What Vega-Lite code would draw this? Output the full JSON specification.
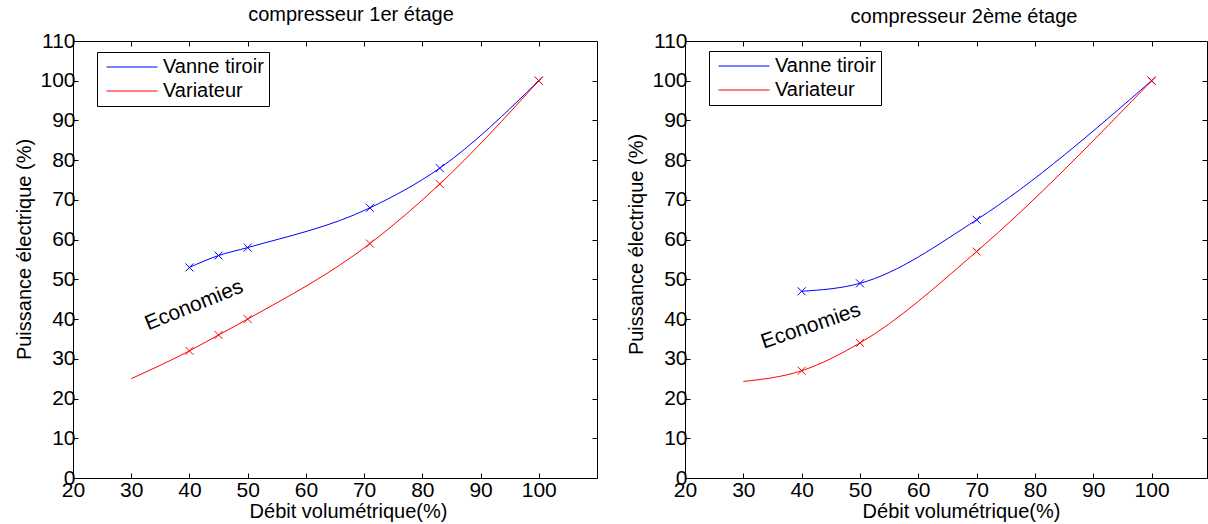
{
  "$schema": "https://vega.github.io/schema/vega-lite/v6.json",
  "background": "white",
  "padding": {"left": 14, "top": 4, "right": 0, "bottom": 0},
  "spacing": 28,
  "config": {
    "font": "Liberation Sans",
    "view": {"stroke": "black", "strokeWidth": 1},
    "axis": {
      "labelFont": "Liberation Sans", "labelFontSize": 21, "labelColor": "black",
      "titleFont": "Liberation Sans", "titleFontSize": 20, "titleFontWeight": "normal", "titleColor": "black",
      "domainColor": "black", "tickColor": "black", "tickSize": -5, "grid": false, "labelPadding": 3,
      "labelFlush": false, "labelOverlap": false
    },
    "title": {"font": "Liberation Sans", "fontSize": 20, "fontWeight": "normal", "color": "black"},
    "legend": {
      "strokeColor": "black", "fillColor": "white", "padding": 5, "symbolType": "M-5,0L5,0",
      "symbolSize": 104, "symbolStrokeWidth": 1, "labelFont": "Liberation Sans", "labelFontSize": 20,
      "labelColor": "black", "rowPadding": 4, "labelOffset": 21, "symbolOffset": 20, "symbolFillColor": "transparent"
    }
  },
  "datasets": {
    "c1": [
      {"debit": 40, "puissance": 53, "serie": "Vanne tiroir", "mesure": true},
      {"debit": 45, "puissance": 56, "serie": "Vanne tiroir", "mesure": true},
      {"debit": 50, "puissance": 58, "serie": "Vanne tiroir", "mesure": true},
      {"debit": 71, "puissance": 68, "serie": "Vanne tiroir", "mesure": true},
      {"debit": 83, "puissance": 78, "serie": "Vanne tiroir", "mesure": true},
      {"debit": 100, "puissance": 100, "serie": "Vanne tiroir", "mesure": true},
      {"debit": 30, "puissance": 25, "serie": "Variateur", "mesure": false},
      {"debit": 40, "puissance": 32, "serie": "Variateur", "mesure": true},
      {"debit": 45, "puissance": 36, "serie": "Variateur", "mesure": true},
      {"debit": 50, "puissance": 40, "serie": "Variateur", "mesure": true},
      {"debit": 71, "puissance": 59, "serie": "Variateur", "mesure": true},
      {"debit": 83, "puissance": 74, "serie": "Variateur", "mesure": true},
      {"debit": 100, "puissance": 100, "serie": "Variateur", "mesure": true}
    ],
    "c2": [
      {"debit": 40, "puissance": 47, "serie": "Vanne tiroir", "mesure": true},
      {"debit": 50, "puissance": 49, "serie": "Vanne tiroir", "mesure": true},
      {"debit": 70, "puissance": 65, "serie": "Vanne tiroir", "mesure": true},
      {"debit": 100, "puissance": 100, "serie": "Vanne tiroir", "mesure": true},
      {"debit": 30, "puissance": 24.3, "serie": "Variateur", "mesure": false},
      {"debit": 40, "puissance": 27, "serie": "Variateur", "mesure": true},
      {"debit": 50, "puissance": 34, "serie": "Variateur", "mesure": true},
      {"debit": 70, "puissance": 57, "serie": "Variateur", "mesure": true},
      {"debit": 100, "puissance": 100, "serie": "Variateur", "mesure": true}
    ]
  },
  "resolve": {"scale": {"color": "independent"}, "legend": {"color": "independent"}},
  "hconcat": [
    {
      "width": 524, "height": 437,
      "title": {"text": "compresseur 1er étage", "offset": 5, "dx": 16},
      "data": {"name": "c1"},
      "resolve": {"axis": {"x": "independent", "y": "independent"}},
      "layer": [
        {
          "mark": {"type": "line", "interpolate": "monotone", "strokeWidth": 1, "clip": true},
          "encoding": {
            "x": {"field": "debit", "type": "quantitative", "scale": {"domain": [20, 110], "nice": false, "zero": false},
                  "axis": {"title": "Débit volumétrique(%)", "values": [20, 30, 40, 50, 60, 70, 80, 90, 100], "titleX": 275, "titlePadding": 1, "labelPadding": 6}},
            "y": {"field": "puissance", "type": "quantitative", "scale": {"domain": [0, 110], "nice": false},
                  "axis": {"title": "Puissance électrique (%)", "values": [0, 10, 20, 30, 40, 50, 60, 70, 80, 90, 100, 110], "titleY": 208, "titlePadding": 5}},
            "color": {"field": "serie", "type": "nominal",
                      "scale": {"domain": ["Vanne tiroir", "Variateur"], "range": ["#0000ff", "#ff0000"]},
                      "legend": {"title": null, "orient": "none", "legendX": 24, "legendY": 11}}
          }
        },
        {
          "transform": [{"filter": "datum.mesure"}],
          "mark": {"type": "point", "shape": "M-1,-1L1,1M-1,1L1,-1", "size": 64, "strokeWidth": 1, "filled": false, "opacity": 1},
          "encoding": {
            "x": {"field": "debit", "type": "quantitative",
                  "axis": {"orient": "top", "labels": false, "title": null, "domain": false, "values": [30, 40, 50, 60, 70, 80, 90, 100]}},
            "y": {"field": "puissance", "type": "quantitative",
                  "axis": {"orient": "right", "labels": false, "title": null, "domain": false, "values": [10, 20, 30, 40, 50, 60, 70, 80, 90, 100]}},
            "color": {"field": "serie", "type": "nominal", "legend": null}
          }
        },
        {
          "data": {"values": [{"debit": 40.8, "puissance": 43.4, "texte": "Economies"}]},
          "mark": {"type": "text", "angle": -22, "fontSize": 21, "font": "Liberation Sans", "color": "black", "align": "center", "baseline": "middle"},
          "encoding": {
            "x": {"field": "debit", "type": "quantitative", "axis": null},
            "y": {"field": "puissance", "type": "quantitative", "axis": null},
            "text": {"field": "texte"}
          }
        }
      ]
    },
    {
      "width": 522, "height": 437,
      "title": {"text": "compresseur 2ème étage", "offset": 3, "dx": 18},
      "data": {"name": "c2"},
      "resolve": {"axis": {"x": "independent", "y": "independent"}},
      "layer": [
        {
          "mark": {"type": "line", "interpolate": "monotone", "strokeWidth": 1, "clip": true},
          "encoding": {
            "x": {"field": "debit", "type": "quantitative", "scale": {"domain": [20, 109.5], "nice": false, "zero": false},
                  "axis": {"title": "Débit volumétrique(%)", "values": [20, 30, 40, 50, 60, 70, 80, 90, 100], "titleX": 276, "titlePadding": 1, "labelPadding": 6}},
            "y": {"field": "puissance", "type": "quantitative", "scale": {"domain": [0, 110], "nice": false},
                  "axis": {"title": "Puissance électrique (%)", "values": [0, 10, 20, 30, 40, 50, 60, 70, 80, 90, 100, 110], "titleY": 203, "titlePadding": 5}},
            "color": {"field": "serie", "type": "nominal",
                      "scale": {"domain": ["Vanne tiroir", "Variateur"], "range": ["#0000ff", "#ff0000"]},
                      "legend": {"title": null, "orient": "none", "legendX": 24, "legendY": 10}}
          }
        },
        {
          "transform": [{"filter": "datum.mesure"}],
          "mark": {"type": "point", "shape": "M-1,-1L1,1M-1,1L1,-1", "size": 64, "strokeWidth": 1, "filled": false, "opacity": 1},
          "encoding": {
            "x": {"field": "debit", "type": "quantitative",
                  "axis": {"orient": "top", "labels": false, "title": null, "domain": false, "values": [30, 40, 50, 60, 70, 80, 90, 100]}},
            "y": {"field": "puissance", "type": "quantitative",
                  "axis": {"orient": "right", "labels": false, "title": null, "domain": false, "values": [10, 20, 30, 40, 50, 60, 70, 80, 90, 100]}},
            "color": {"field": "serie", "type": "nominal", "legend": null}
          }
        },
        {
          "data": {"values": [{"debit": 41.6, "puissance": 38.2, "texte": "Economies"}]},
          "mark": {"type": "text", "angle": -19, "fontSize": 21, "font": "Liberation Sans", "color": "black", "align": "center", "baseline": "middle"},
          "encoding": {
            "x": {"field": "debit", "type": "quantitative", "axis": null},
            "y": {"field": "puissance", "type": "quantitative", "axis": null},
            "text": {"field": "texte"}
          }
        }
      ]
    }
  ]
}
